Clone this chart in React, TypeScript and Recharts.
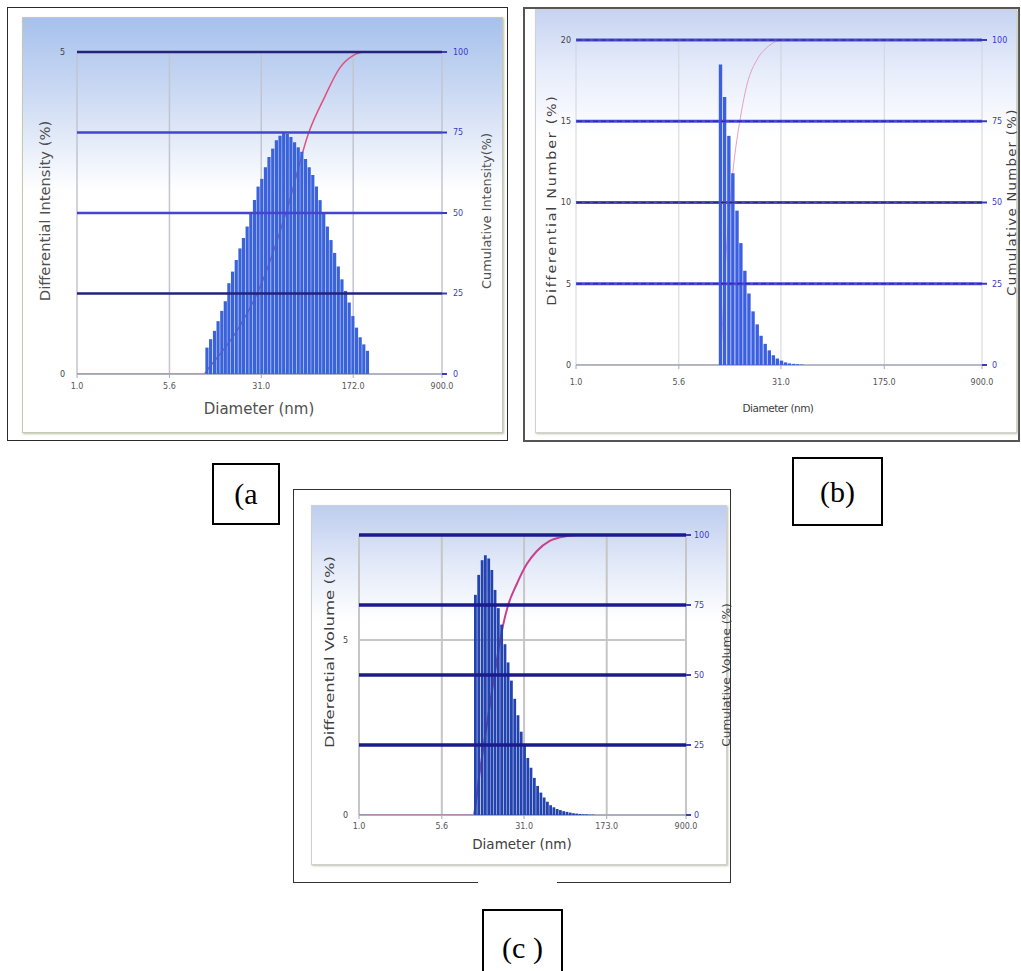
import React from 'react';
import { ComposedChart, Bar, Line, XAxis, YAxis, CartesianGrid, ReferenceLine } from 'recharts';

// bin centres (nm), shared by the three distributions
const diameters = [
  11.3, 12.1, 13.0, 13.9, 14.9, 15.9, 17.0, 18.2, 19.5, 20.9, 22.3, 23.9, 25.6, 27.4, 29.3,
  31.4, 33.6, 35.9, 38.5, 41.2, 44.1, 47.2, 50.5, 54.0, 57.8, 61.9, 66.2, 70.9, 75.9, 81.2,
  86.9, 93.0, 99.5, 106.5, 114.0, 122.0, 130.6, 139.8, 149.6, 160.1, 171.4, 183.4, 196.3, 210.1, 224.9,
];

// (a) differential intensity (%)
const intensityDiff = [
  0.41, 0.54, 0.67, 0.82, 0.98, 1.13, 1.41, 1.59, 1.77, 1.95, 2.11, 2.29, 2.49, 2.7, 2.91,
  3.03, 3.21, 3.37, 3.5, 3.63, 3.7, 3.74, 3.73, 3.68, 3.6, 3.52, 3.45, 3.34, 3.21, 3.09,
  2.91, 2.7, 2.49, 2.29, 2.08, 1.88, 1.67, 1.47, 1.29, 1.11, 0.9, 0.72, 0.57, 0.46, 0.36,
];
const intensityCumD = [1.0, 10.5, 12.0, 20.9, 30.3, 50.0, 75.2, 101, 133.6, 170, 212, 900];
const intensityCum = [0, 0, 2.5, 15, 27, 51, 75, 86, 95, 98.8, 100, 100];

// (b) differential number (%)
const numberDiff = [
  18.5, 16.5, 14.1, 11.8, 9.5, 7.5, 5.8, 4.4, 3.3, 2.5, 1.8, 1.3, 0.9, 0.6, 0.4, 0.27, 0.16,
  0.1, 0.07, 0.05, 0.03,
];
const numberCumD = [1.0, 11.0, 12.4, 13.9, 15.7, 17.6, 20.8, 25.0, 32.1, 900];
const numberCum = [0, 0, 35, 60, 76, 86.5, 94, 98, 100, 100];

// (c) differential volume (%)
const volumeDiff = [
  6.29, 6.86, 7.28, 7.42, 7.33, 7.0, 6.43, 5.91, 5.44, 4.88, 4.36, 3.84, 3.32, 2.85, 2.38,
  2.0, 1.63, 1.35, 1.06, 0.83, 0.64, 0.5, 0.38, 0.28, 0.22, 0.17, 0.14, 0.11, 0.09, 0.07,
  0.05, 0.04, 0.03, 0.02, 0.02, 0.01, 0.01,
];
const volumeCumD = [1.0, 10.7, 12.4, 16.3, 20.0, 22.2, 26.7, 32.9, 40.5, 52.9, 75.3, 98.6, 900];
const volumeCum = [0, 0, 16, 47, 67.7, 74.8, 82.6, 89.7, 94.3, 97.9, 99.6, 100, 100];

const xTicksA = [1.0, 5.6, 31.0, 172.0, 900.0];
const xTicksB = [1.0, 5.6, 31.0, 175.0, 900.0];
const xTicksC = [1.0, 5.6, 31.0, 173.0, 900.0];
const cumTicks = [0, 25, 50, 75, 100];
const leftTicksA = [0, 5];
const leftTicksB = [0, 5, 10, 15, 20];
const leftTicksC = [0, 5];

const toBins = (vals: number[]) => vals.map((v, i) => ({ d: diameters[i], v }));
const toCum = (ds: number[], cs: number[]) => ds.map((d, i) => ({ d, c: cs[i] }));

const tickFont = "'DejaVu Sans', Verdana, sans-serif";

type PanelProps = {
  left: number;
  top: number;
  width: number;
  height: number;
  background: string;
  border: string;
  margin: { top: number; right: number; bottom: number; left: number };
  bins: { d: number; v: number }[];
  cum: { d: number; c: number }[];
  xTicks: number[];
  leftMax: number;
  leftTicks: number[];
  barColor: string;
  barSize: number;
  lineColor: string;
  lineWidth: number;
  refColor: (v: number) => string;
  refWidth: number;
  refDash?: string;
  gridColor: string;
  gridWidth: number;
  leftTick: [number, number];
  rightTick: [number, number];
  xTick: [number, number];
};

// same axes on both layers so that they share one coordinate system
function axes(p: PanelProps, visible: boolean) {
  return [
    <XAxis
      key="x"
      dataKey="d"
      type="number"
      scale="log"
      domain={[1, 900]}
      allowDataOverflow
      ticks={p.xTicks}
      tickFormatter={(v: number) => v.toFixed(1)}
      height={30}
      tickSize={p.xTick[0]}
      tickMargin={p.xTick[1]}
      axisLine={visible ? { stroke: '#a4a8b8', strokeWidth: 1.5 } : false}
      tickLine={visible ? { stroke: '#a4a8b8' } : false}
      tick={visible ? { fontSize: 8, fill: '#555', fontFamily: tickFont } : false}
    />,
    <YAxis
      key="yl"
      yAxisId="left"
      domain={[0, p.leftMax]}
      allowDataOverflow
      ticks={p.leftTicks}
      width={30}
      axisLine={false}
      tickLine={false}
      tickSize={p.leftTick[0]}
      tickMargin={p.leftTick[1]}
      tick={visible ? { fontSize: 8, fill: '#444', fontFamily: tickFont } : false}
    />,
    <YAxis
      key="yr"
      yAxisId="right"
      orientation="right"
      domain={[0, 100]}
      allowDataOverflow
      ticks={cumTicks}
      width={30}
      axisLine={false}
      tickLine={visible ? { stroke: '#3b3bc0', strokeWidth: 2 } : false}
      tickSize={p.rightTick[0]}
      tickMargin={p.rightTick[1]}
      tick={visible ? { fontSize: 8, fill: '#3b3bc0', fontFamily: tickFont } : false}
    />,
  ];
}

function SizePanel(p: PanelProps) {
  const w = p.width - 2;
  const h = p.height - 2;
  const levels = cumTicks.filter((v) => v > 0);
  return (
    <div
      style={{
        position: 'absolute',
        left: p.left,
        top: p.top,
        width: p.width,
        height: p.height,
        background: p.background,
        border: p.border,
        boxSizing: 'border-box',
        boxShadow: '1px 1px 2px rgba(140,150,120,0.6)',
      }}
    >
      {/* back layer: grid, axes, cumulative curve */}
      <div style={{ position: 'absolute', left: 0, top: 0 }}>
        <ComposedChart width={w} height={h} data={p.cum} margin={p.margin}>
          <CartesianGrid yAxisId="left" stroke={p.gridColor} strokeWidth={p.gridWidth} fill="none" />
          {axes(p, true)}
          {/* invisible: keeps the left axis bound to data */}
          <Line yAxisId="left" dataKey="c" stroke="none" dot={false} activeDot={false} isAnimationActive={false} />
          <Line
            yAxisId="right"
            dataKey="c"
            type="monotone"
            dot={false}
            stroke={p.lineColor}
            strokeWidth={p.lineWidth}
            isAnimationActive={false}
          />
        </ComposedChart>
      </div>
      {/* front layer: bars and the cumulative level lines */}
      <div style={{ position: 'absolute', left: 0, top: 0 }}>
        <ComposedChart width={w} height={h} data={p.bins} margin={p.margin}>
          {axes(p, false)}
          <Bar yAxisId="left" dataKey="v" fill={p.barColor} barSize={p.barSize} isAnimationActive={false} />
          {/* invisible: keeps the right axis bound to data */}
          <Line yAxisId="right" dataKey="v" stroke="none" dot={false} activeDot={false} isAnimationActive={false} />
          {levels.map((v) => (
            <ReferenceLine key={`r${v}`} yAxisId="right" y={v} stroke={p.refColor(v)} strokeWidth={p.refWidth} />
          ))}
          {p.refDash &&
            levels.map((v) => (
              <ReferenceLine
                key={`d${v}`}
                yAxisId="right"
                y={v}
                stroke="#2a2a70"
                strokeWidth={1}
                strokeDasharray={p.refDash}
              />
            ))}
        </ComposedChart>
      </div>
    </div>
  );
}

function Title(props: {
  x: number;
  y: number;
  text: string;
  size: number;
  vertical?: boolean;
  stretch?: number;
  color?: string;
  spacing?: number;
}) {
  const rot = props.vertical ? ' rotate(-90deg)' : '';
  const sc = props.stretch ? ` scaleX(${props.stretch})` : '';
  return (
    <div
      style={{
        position: 'absolute',
        left: props.x,
        top: props.y,
        transform: `translate(-50%, -50%)${rot}${sc}`,
        whiteSpace: 'nowrap',
        fontSize: props.size,
        fontFamily: "'DejaVu Sans', sans-serif",
        color: props.color ?? '#4a4a4a',
        letterSpacing: props.spacing ?? 0,
        lineHeight: 1,
      }}
    >
      {props.text}
    </div>
  );
}

function LabelBox(props: { x: number; y: number; w: number; h: number; text: string }) {
  return (
    <div
      style={{
        position: 'absolute',
        left: props.x,
        top: props.y,
        width: props.w,
        height: props.h,
        border: '2px solid #000',
        boxSizing: 'border-box',
        background: '#fff',
        display: 'flex',
        alignItems: 'center',
        justifyContent: 'center',
        fontFamily: "'Liberation Serif', 'Times New Roman', serif",
        fontSize: 30,
        color: '#000',
      }}
    >
      {props.text}
    </div>
  );
}

export default function App() {
  return (
    <div
      style={{
        position: 'absolute',
        left: 0,
        top: 0,
        width: 1021,
        height: 971,
        background: '#fff',
        overflow: 'hidden',
      }}
    >
      {/* (a) intensity */}
      <div style={{ position: 'absolute', left: 7, top: 7, width: 501, height: 434, border: '1.5px solid #2a2a2a', boxSizing: 'border-box' }} />
      <SizePanel
        left={22}
        top={17}
        width={481}
        height={416}
        background="linear-gradient(to bottom, #a6c1ec 0%, #cfdcf4 20%, #ffffff 42%)"
        border="1px solid #c4cab0"
        margin={{ top: 34, right: 30, bottom: 28, left: 24 }}
        bins={toBins(intensityDiff)}
        cum={toCum(intensityCumD, intensityCum)}
        xTicks={xTicksA}
        leftMax={5}
        leftTicks={leftTicksA}
        barColor="#3a62da"
        barSize={3.2}
        lineColor="#e0507e"
        lineWidth={1.5}
        refColor={(v) => (v === 100 || v === 25 ? '#23237a' : '#4444d0')}
        refWidth={2.5}
        gridColor="#c2c4d0"
        gridWidth={1.5}
        leftTick={[4, 8]}
        rightTick={[5, 6]}
        xTick={[4, 5]}
      />
      <Title x={45} y={211} text="Differential Intensity (%)" size={14} stretch={1.05} vertical color="#505050" />
      <Title x={487} y={211} text="Cumulative Intensity(%)" size={12.5} stretch={1.03} vertical color="#505050" />
      <Title x={259} y={409} text="Diameter (nm)" size={15} color="#505050" />

      {/* (b) number */}
      <div style={{ position: 'absolute', left: 523, top: 7, width: 497, height: 435, border: '2px solid #555', boxSizing: 'border-box' }} />
      <SizePanel
        left={535}
        top={9}
        width={482}
        height={424}
        background="linear-gradient(to bottom, #c6d3f1 0%, #e6ecfa 14%, #ffffff 30%)"
        border="1px solid #d2d2d2"
        margin={{ top: 30, right: 4, bottom: 37, left: 10 }}
        bins={toBins(numberDiff)}
        cum={toCum(numberCumD, numberCum)}
        xTicks={xTicksB}
        leftMax={20}
        leftTicks={leftTicksB}
        barColor="#3a5fe0"
        barSize={3.4}
        lineColor="#e6a0c0"
        lineWidth={1}
        refColor={() => '#4a4ad8'}
        refWidth={3}
        refDash="5 3"
        gridColor="#d2d4dc"
        gridWidth={1}
        leftTick={[2, 3]}
        rightTick={[5, 5]}
        xTick={[4, 10]}
      />
      <Title x={551} y={200} text="Differential Number (%)" size={13} stretch={1.1} spacing={1.6} vertical color="#404040" />
      <Title x={1012} y={202} text="Cumulative Number (%)" size={12} stretch={1.1} spacing={1.2} vertical color="#404040" />
      <Title x={778} y={408} text="Diameter (nm)" size={10.5} spacing={-0.5} color="#404040" />

      {/* (c) volume */}
      <div style={{ position: 'absolute', left: 293, top: 489, width: 438, height: 394, border: '1.5px solid #333', boxSizing: 'border-box' }} />
      <div style={{ position: 'absolute', left: 478, top: 878, width: 79, height: 8, background: '#fff' }} />
      <SizePanel
        left={311}
        top={505}
        width={416}
        height={360}
        background="linear-gradient(to bottom, #bdcdef 0%, #e2e9f8 16%, #ffffff 32%)"
        border="1px solid #d0d0d0"
        margin={{ top: 29, right: 10, bottom: 19, left: 17 }}
        bins={toBins(volumeDiff)}
        cum={toCum(volumeCumD, volumeCum)}
        xTicks={xTicksC}
        leftMax={8}
        leftTicks={leftTicksC}
        barColor="#2343b0"
        barSize={3.4}
        lineColor="#c8408e"
        lineWidth={2}
        refColor={() => '#1b1b8c'}
        refWidth={3.5}
        gridColor="#c6c6c6"
        gridWidth={2}
        leftTick={[4, 7]}
        rightTick={[5, 3]}
        xTick={[4, 4]}
      />
      <Title x={329} y={652} text="Differential Volume (%)" size={13} stretch={1.27} vertical color="#404040" />
      <Title x={726} y={675} text="Cumulative Volume (%)" size={10.5} stretch={1.16} vertical color="#404040" />
      <Title x={522} y={845} text="Diameter (nm)" size={13.5} color="#404040" />

      <LabelBox x={212} y={463} w={68} h={62} text="(a" />
      <LabelBox x={792} y={457} w={91} h={69} text="(b)" />
      <LabelBox x={482} y={909} w={81} h={78} text="(c )" />
    </div>
  );
}
